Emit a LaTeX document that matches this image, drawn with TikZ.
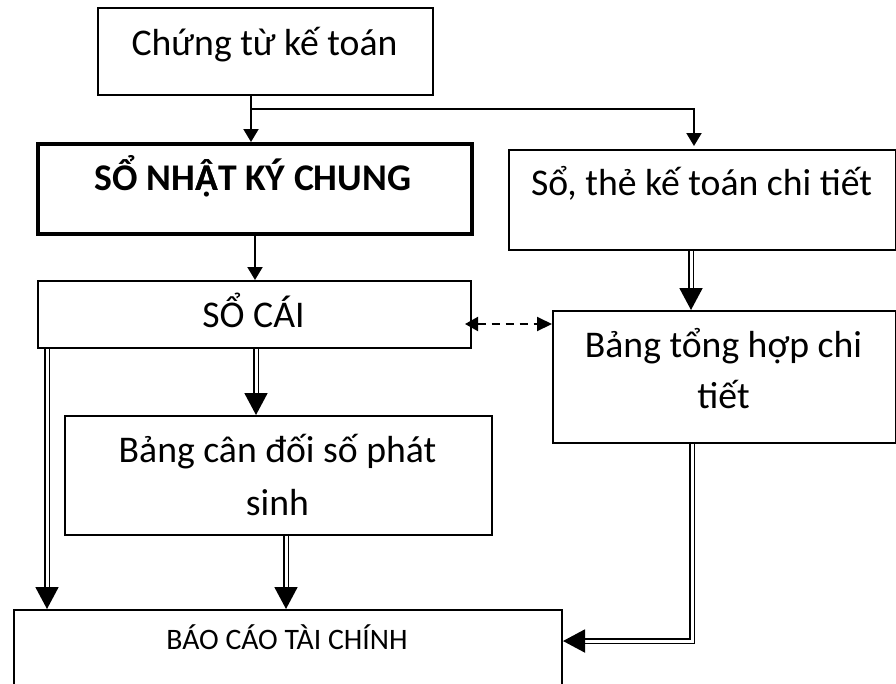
\documentclass[tikz,border=0pt]{standalone}
\usepackage{fontspec}
\setmainfont{Carlito}
\usetikzlibrary{arrows.meta,calc}

% A with circumflex and dot below, built from A-circumflex over A-dot-below
\newcommand{\AcircDot}{{\ooalign{Â\cr Ạ\cr}}}

\begin{document}
\begin{tikzpicture}[x=1pt,y=-1pt,
  box/.style={draw, line width=2pt, rectangle, inner sep=0pt, anchor=north west},
  lbl/.style={anchor=base, inner sep=0pt, font=\fontsize{37.7}{44}\selectfont},
  smalllbl/.style={anchor=base, inner sep=0pt, font=\fontsize{29.7}{35}\selectfont},
  arr/.style={line width=2pt, -{Triangle[length=13pt,width=15pt]}},
  dbl/.style={double, line width=1.9pt, double distance=3pt, -{Triangle[length=22pt,width=23pt]}},
  dasharr/.style={line width=2pt, dash pattern=on 8pt off 6pt,
    {Triangle[length=13pt,width=14pt]}-{Triangle[length=15pt,width=14pt]}}]

\useasboundingbox (0,0) rectangle (896,683);
\clip (0,0) rectangle (896,683);

% boxes
\node[box, minimum width=335pt, minimum height=87pt] (b1) at (97,7) {};
\node[box, line width=4pt, minimum width=434pt, minimum height=90pt] (b2) at (36,142) {};
\node[box, minimum width=387pt, minimum height=100pt] (b3) at (508,149) {};
\node[box, minimum width=433pt, minimum height=67pt] (b4) at (37,280) {};
\node[box, minimum width=427pt, minimum height=119pt] (b5) at (64,415) {};
\node[box, minimum width=343pt, minimum height=132pt] (b6) at (552,310) {};
\node[box, minimum width=548pt, minimum height=100pt] (b7) at (13,609) {};

% labels
\node[lbl] (t1) at (264.5,55) {Chứng từ kế toán};
\node[lbl, font=\fontsize{37.7}{44}\selectfont\bfseries] (t2) at (253,190) {SỔ NH\AcircDot T KÝ CHUNG};
\node[lbl] (t3) at (701.5,195) {Sổ, thẻ kế toán chi tiết};
\node[lbl] (t4) at (253.5,327) {SỔ CÁI};
\node[lbl] (t5a) at (277.5,462) {Bảng cân đối số phát};
\node[lbl] (t5b) at (277.5,515) {sinh};
\node[lbl] (t6a) at (723.5,357) {Bảng tổng hợp chi};
\node[lbl] (t6b) at (723.5,408) {tiết};
\node[smalllbl] (t7) at (287,649) {BÁO CÁO TÀI CHÍNH};

% single arrows
\coordinate (split) at ($(b1.south)+(-14.5,13)$);
\draw[arr] ([xshift=-14.5pt]b1.south) -- ([xshift=-14.5pt]b1.south |- b2.north);
\draw[arr] (split) -| ([xshift=-8.5pt,yshift=3pt]b3.north);
\draw[arr] (b2.south) -- (b2.south |- b4.north);

% dashed two-way link
\coordinate (dl) at ($(b4.east)+(-7,9.5)$);
\draw[dasharr] (dl) -- (dl -| b6.west);

% double arrows
\draw[dbl] ([xshift=1.5pt]b4.south) -- ([xshift=1.5pt]b4.south |- b5.north);
\draw[dbl] ([xshift=-11.5pt]b3.south) -- ([xshift=-11.5pt]b3.south |- b6.north);
\draw[dbl] ([xshift=10pt]b4.south west) -- ([xshift=10pt]b4.south west |- b7.north);
\draw[dbl] ([xshift=7.5pt]b5.south) -- ([xshift=7.5pt]b5.south |- b7.north);
\coordinate (bend) at ($(b7.north east)+(0,32)$);
\draw[dbl] ([xshift=-32.5pt]b6.south) |- (bend);
\end{tikzpicture}
\end{document}
